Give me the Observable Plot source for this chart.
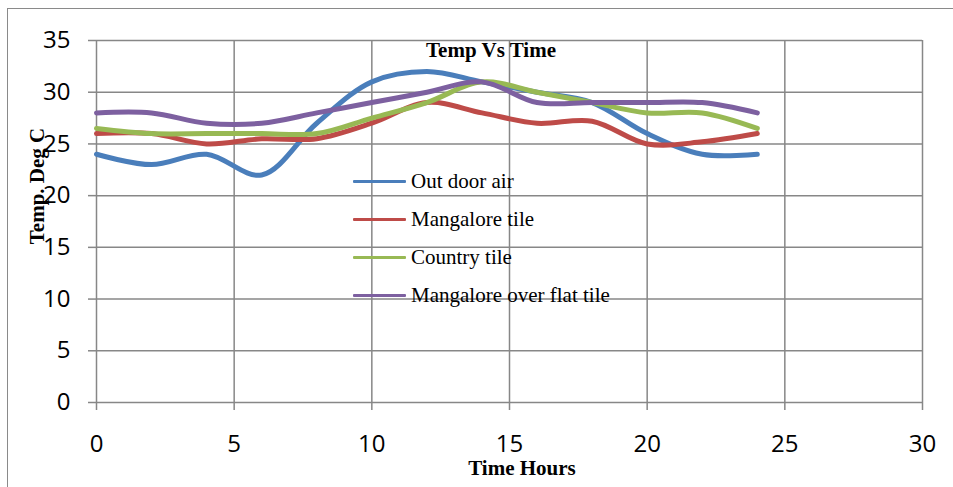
<!DOCTYPE html>
<html>
<head>
<meta charset="utf-8">
<script src="https://cdn.jsdelivr.net/npm/d3@7"></script>
<script src="https://cdn.jsdelivr.net/npm/@observablehq/plot@0.6"></script>
<style>
  html, body { margin: 0; padding: 0; background: #fff; }
  #wrap { position: relative; width: 953px; height: 487px; overflow: hidden; background: #fff; }
  #wrap svg { position: absolute; left: 0; top: 0; }
  .ov { position: absolute; font-family: "Liberation Serif", "Times New Roman", serif; color: #000; white-space: nowrap; line-height: 1; }
  .bold { font-weight: bold; font-size: 21px; }
  #border { position: absolute; left: 7px; top: 8px; right: -10px; bottom: -10px;
            border-left: 1.5px solid #8a8a8a; border-top: 1.5px solid #8a8a8a; }
  .leg { position: absolute; left: 353px; height: 24px; display: flex; align-items: center; font-family: "Liberation Serif", serif; font-size: 21px; }
  .leg .sw { width: 53px; height: 3px; margin-right: 5px; border-radius: 1px; }
</style>
</head>
<body>
<div id="wrap"></div>
<script>
// ---- data ----
const hours = [0, 2, 4, 6, 8, 10, 12, 14, 16, 18, 20, 22, 24];
const outdoorAir = [24, 23, 24, 22, 27, 31, 32, 31, 30, 29, 26, 24, 24];
const mangaloreTile = [26, 26, 25, 25.5, 25.5, 27, 29, 28, 27, 27.2, 25, 25.2, 26];
const countryTile = [26.5, 26, 26, 26, 26, 27.5, 29, 31, 30, 29, 28, 28, 26.5];
const mangaloreOverFlat = [28, 28, 27, 27, 28, 29, 30, 31, 29, 29, 29, 29, 28];
const seriesNames = ["Out door air", "Mangalore tile", "Country tile", "Mangalore over flat tile"];
const seriesColors = ["#4A7EBB", "#BE4B48", "#98B954", "#7D60A0"];
const xTicks = [0, 5, 10, 15, 20, 25, 30];
const yTicks = [0, 5, 10, 15, 20, 25, 30, 35];
const title = "Temp Vs Time";
const xLabel = "Time Hours";
const yLabel = "Temp. Deg C";

const seriesValues = [outdoorAir, mangaloreTile, countryTile, mangaloreOverFlat];
const data = seriesNames.flatMap((name, s) =>
  hours.map((h, i) => ({hour: h, temp: seriesValues[s][i], series: name})));

const grid = "#878787";
const chart = Plot.plot({
  width: 953,
  height: 487,
  marginLeft: 96,
  marginRight: 31,
  marginTop: 40,
  marginBottom: 85,
  style: {background: "transparent", fontFamily: "'Open Sans', sans-serif", fontSize: "24px", color: "#000"},
  x: {domain: [0, 30]},
  y: {domain: [0, 35]},
  color: {domain: seriesNames, range: seriesColors},
  marks: [
    Plot.gridX(xTicks, {stroke: grid, strokeOpacity: 1, strokeWidth: 1.5}),
    Plot.gridY(yTicks, {stroke: grid, strokeOpacity: 1, strokeWidth: 1.5}),
    Plot.axisX(xTicks, {tickSize: 8, tickPadding: 24, stroke: grid, strokeWidth: 1.5, label: null, fontSize: 24, fill: "#000"}),
    Plot.axisY(yTicks, {tickSize: 8, tickPadding: 18, stroke: grid, strokeWidth: 1.5, label: null, fontSize: 24, fill: "#000"}),
    Plot.line(data, {x: "hour", y: "temp", z: "series", stroke: "series", strokeWidth: 5,
                     curve: "catmull-rom", strokeLinecap: "round", strokeLinejoin: "round"})
  ]
});

const wrap = document.getElementById("wrap");
const border = document.createElement("div");
border.id = "border";
wrap.appendChild(border);
wrap.appendChild(chart);

function addText(txt, cls, css) {
  const d = document.createElement("div");
  d.className = "ov " + cls;
  d.textContent = txt;
  Object.assign(d.style, css);
  wrap.appendChild(d);
  return d;
}
addText(title, "bold", {left: "491px", top: "50px", transform: "translate(-50%,-50%)"});
addText(xLabel, "bold", {left: "522px", top: "468px", transform: "translate(-50%,-50%)"});
addText(yLabel, "bold", {left: "37px", top: "186px", transform: "translate(-50%,-50%) rotate(-90deg)"});

const legY = [181, 219, 257, 295];
seriesNames.forEach((name, i) => {
  const row = document.createElement("div");
  row.className = "leg";
  row.style.top = (legY[i] - 12) + "px";
  const sw = document.createElement("div");
  sw.className = "sw";
  sw.style.background = seriesColors[i];
  const t = document.createElement("span");
  t.textContent = name;
  row.appendChild(sw);
  row.appendChild(t);
  wrap.appendChild(row);
});
</script>
</body>
</html>
